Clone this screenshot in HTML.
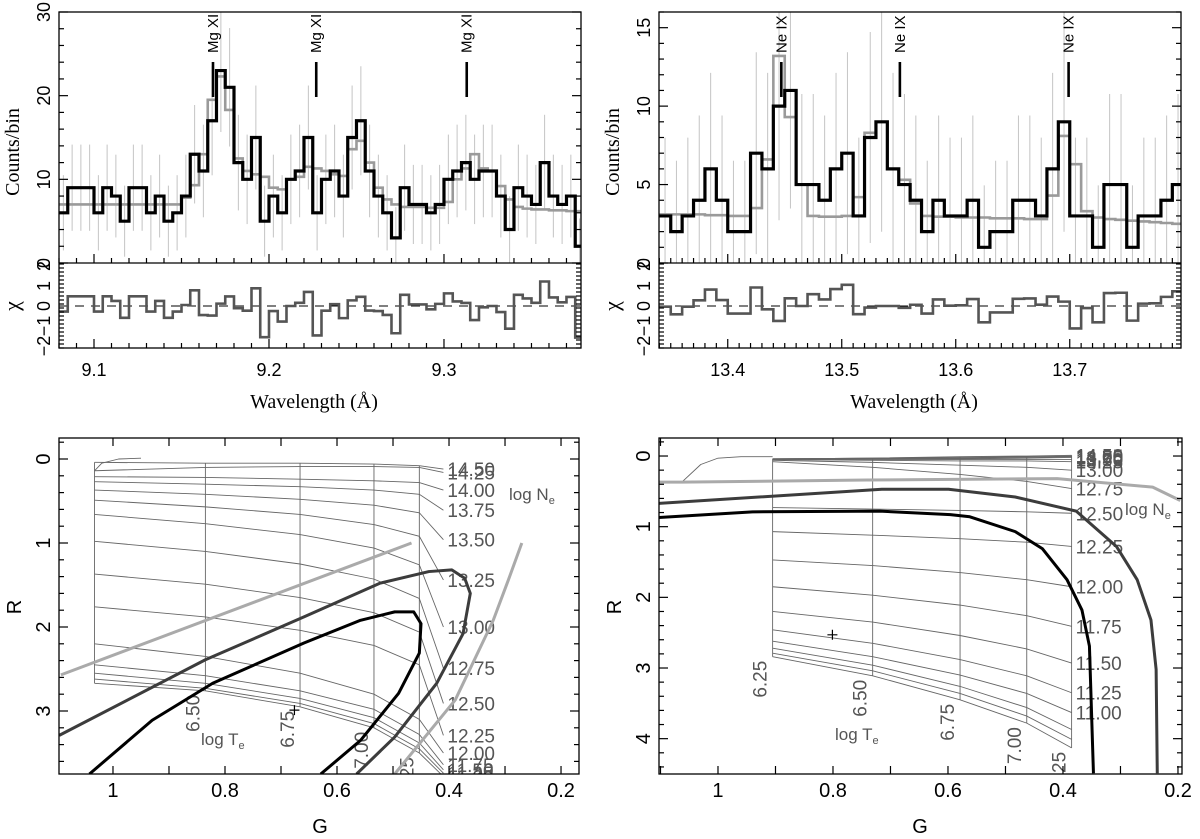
<!DOCTYPE html>
<html><head><meta charset="utf-8"><title>Spectra and G-R diagnostics</title>
<style>
html,body{margin:0;padding:0;background:#fff;}
svg{display:block;}
text{font-family:"Liberation Sans",sans-serif;}
.serif{font-family:"Liberation Serif",serif;}
</style></head>
<body>
<svg id="fig" width="1200" height="839" viewBox="0 0 1200 839" xmlns="http://www.w3.org/2000/svg">
<defs>
<clipPath id="cTL"><rect x="59" y="12" width="522" height="336"/></clipPath>
<clipPath id="cTR"><rect x="659" y="12" width="522" height="336"/></clipPath>
<clipPath id="cBL"><rect x="59" y="438" width="520" height="336"/></clipPath>
<clipPath id="cBR"><rect x="659" y="438" width="522" height="336"/></clipPath>
</defs>
</svg>
<script>
// ---------- Spectrum data (top-left: Mg XI region) ----------
const tlCounts=[6,9,9,9,6,9,8,5,9,9,6,8,5,6,8,13,11,17,23,21,12,10,15,5,8,6,10,11,15,6,10,11,8,15,17,11,8,6,3,9,7,7,6,7,10,11,12,10,11,11,8,4,9,8,7,12,8,7,8,2,7];
const tlModel=[7,7,7,7,7,7,7,7,7,7,7,7,7,7,7.8,9.3,13,19.5,22.3,18.3,12.5,11,10.6,10.3,9,8.8,10,10.3,11.5,11.3,11,10.6,10.4,13.6,14.6,12,9,7.6,7,6.7,6.7,6.7,6.6,6.6,7.3,10,11.3,13,11.3,11,9.2,7.6,6.7,6.5,6.4,6.4,6.3,6.3,6.2,6.2,6.1];
const tlLines=[9.168,9.227,9.313];
const tlLineNames=["Mg XI","Mg XI","Mg XI"];
const tlXTicks=[9.1,9.2,9.3];
const tlYTicks=[0,10,20,30];
// ---------- Spectrum data (top-right: Ne IX region) ----------
const trCounts=[3,2,3,4,6,4,2,2,7,6,10,11,5,5,4,6,7,3,8,9,6,5,4,2,4,3,3,4,1,2,2,4,4,3,6,9,3,3,1,5,5,1,3,3,4,5];
const trModel=[3.1,3.1,3.1,3.1,3.05,3.05,3.0,3.0,3.5,6.6,13.2,9.3,5.0,3.0,2.95,2.95,3.0,4.2,8.3,9.0,6.0,5.3,3.8,3.0,2.95,2.95,2.9,2.9,2.9,2.85,2.85,2.85,2.8,2.8,4.3,8.1,6.3,3.3,2.9,2.8,2.75,2.7,2.65,2.6,2.55,2.5];
const trLines=[13.447,13.551,13.699];
const trLineNames=["Ne IX","Ne IX","Ne IX"];
const trXTicks=[13.4,13.5,13.6,13.7];
const trYTicks=[0,5,10,15];
const resTicks=[-2,-1,0,1,2];
// ---------- G-R diagnostic grids ----------
const blTempLabels=["6.25","6.50","6.75","7.00","7.25"];
const blColG=[1.033,0.835,0.666,0.534,0.453];
const blEndG=0.41;
const blDensLabels=["14.50","14.25","14.00","13.75","13.50","13.25","13.00","12.75","12.50","12.25","12.00","11.75","11.50","11.25","11.00"];
const blRows=[
[0.04,0.05,0.05,0.06,0.08,0.12],[0.14,0.10,0.09,0.09,0.10,0.16],[0.21,0.22,0.24,0.26,0.28,0.37],
[0.27,0.30,0.33,0.37,0.42,0.61],[0.37,0.42,0.48,0.55,0.64,0.96],[0.49,0.57,0.66,0.78,0.92,1.44],
[0.66,0.77,0.90,1.06,1.26,2.00],[0.98,1.10,1.25,1.43,1.66,2.49],[1.37,1.49,1.65,1.83,2.06,2.91],
[1.76,1.88,2.04,2.22,2.45,3.29],[2.20,2.35,2.55,2.80,3.10,3.50],[2.45,2.58,2.76,2.98,3.28,3.64],
[2.55,2.67,2.85,3.08,3.38,3.70],[2.62,2.73,2.91,3.15,3.45,3.74],[2.67,2.76,2.95,3.20,3.50,3.78]];
const blLightA_G=[1.093,0.467], blLightA_R=[2.57,1.0];
const blLightB_G=[0.497,0.389,0.321,0.294,0.270], blLightB_R=[3.75,2.87,1.92,1.44,1.0];
const blEdge_G=[1.033,1.02,0.99,0.95], blEdge_R=[0.14,0.05,0.0,-0.01];
const blDark_G=[1.096,0.835,0.659,0.524,0.436,0.395,0.372,0.362,0.375,0.422,0.497,0.565];
const blDark_R=[3.29,2.39,1.88,1.48,1.34,1.32,1.42,1.60,2.08,2.67,3.31,3.75];
const blBlack_G=[1.042,0.93,0.822,0.659,0.558,0.497,0.463,0.45,0.453,0.49,0.558,0.629];
const blBlack_R=[3.75,3.11,2.67,2.19,1.92,1.82,1.82,1.96,2.31,2.79,3.35,3.75];
const blMark=[0.676,2.99];
const brTempLabels=["6.25","6.50","6.75","7.00","7.25"];
const brColG=[0.905,0.731,0.579,0.463,0.385];
const brDensLabels=["14.50","14.25","14.00","13.75","13.50","13.25","13.00","12.75","12.50","12.25","12.00","11.75","11.50","11.25","11.00","","",""];
const brRows=[
[0.04,0.03,0.01,0.0,-0.01],[0.04,0.03,0.02,0.01,0.0],[0.04,0.03,0.03,0.02,0.01],[0.05,0.04,0.04,0.03,0.02],
[0.05,0.05,0.05,0.05,0.05],[0.05,0.06,0.07,0.07,0.08],[0.06,0.09,0.13,0.16,0.20],[0.08,0.16,0.26,0.36,0.46],
[0.73,0.75,0.77,0.79,0.81],[1.07,1.12,1.17,1.22,1.28],[1.47,1.55,1.65,1.75,1.85],[1.85,1.97,2.11,2.26,2.41],
[2.20,2.35,2.54,2.73,2.93],[2.46,2.65,2.88,3.11,3.35],[2.62,2.84,3.10,3.36,3.63],[2.72,2.96,3.26,3.56,3.87],
[2.79,3.04,3.36,3.68,4.01],[2.84,3.11,3.45,3.78,4.13]];
const brLight_G=[1.103,1.063,0.741,0.41,0.244,0.196], brLight_R=[0.37,0.37,0.34,0.32,0.44,0.63];
const brEdge_G=[1.063,1.03,1.0,0.96,0.905], brEdge_R=[0.37,0.12,0.03,0.01,0.01];
const brDark_G=[1.103,0.715,0.599,0.483,0.377,0.307,0.271,0.247,0.238,0.236];
const brDark_R=[0.67,0.47,0.47,0.58,0.78,1.28,1.75,2.32,3.02,4.49];
const brBlack_G=[1.103,0.94,0.718,0.596,0.562,0.483,0.436,0.393,0.367,0.354,0.347];
const brBlack_R=[0.87,0.79,0.78,0.83,0.86,1.07,1.31,1.75,2.18,2.69,4.49];
const brMark=[0.801,2.53];
const gTicks=[1,0.8,0.6,0.4,0.2];

const NS="http://www.w3.org/2000/svg";
const svg=document.getElementById('fig');
function add(parent,tag,attrs,txt){const e=document.createElementNS(NS,tag);for(const k in attrs)e.setAttribute(k,attrs[k]);if(txt!==undefined)e.textContent=txt;parent.appendChild(e);return e;}

function spectrum(P){
  const g=add(svg,'g',{});
  
  
  const x=v=>P.px0+(v-P.xmin)/(P.xmax-P.xmin)*(P.px1-P.px0);
  const y=c=>P.bot-c/P.ymax*(P.bot-P.top);
  const ry=r=>P.rbot-(r+2.1)/4.25*(P.rbot-P.bot);
  const cg=add(g,'g',{'clip-path':'url(#'+P.clip+')'});
  P.counts.forEach((n,i)=>{
    const e=P.eb*(1+Math.sqrt(n+0.75));
    const cx=x(P.x0+(i+0.5)*P.bw);
    const l=add(cg,'line',{x1:cx,x2:cx,y1:Math.max(P.top,y(n+e)),y2:Math.min(P.bot,y(Math.max(0,n-e))),stroke:'#c4c4c4','stroke-width':1});
    
    
  });
  function steps(vals,fy){let d='';vals.forEach((v,i)=>{const xa=x(P.x0+i*P.bw),xb=x(P.x0+(i+1)*P.bw);d+=(i===0?'M'+xa+','+fy(v):'V'+fy(v))+'H'+xb;});return d;}
  const m=add(cg,'path',{d:steps(P.model,y),fill:'none',stroke:'#9a9a9a','stroke-width':2.6});
  
  
  const h=add(cg,'path',{d:steps(P.counts,y),fill:'none',stroke:'#000','stroke-width':3.2});
  
  
  const res=P.counts.map((n,i)=>(n-P.model[i])/(1+Math.sqrt(n+0.75)));
  const dl=add(cg,'line',{x1:P.px0,x2:P.px1,y1:ry(0),y2:ry(0),stroke:'#000','stroke-width':1,'stroke-dasharray':'9,7'});
  
  
  const rp=add(cg,'path',{d:steps(res,ry),fill:'none',stroke:'#555','stroke-width':2.6});
  
  
  P.lines.forEach((l,i)=>{
    const lx=x(l);
    const t=add(g,'line',{x1:lx,x2:lx,y1:62,y2:97,stroke:'#000','stroke-width':2.6});
    
    
    const tx=add(g,'text',{x:0,y:0,transform:`translate(${lx+5},53) rotate(-90)`,'font-size':15},P.lineNames[i]);
    
    
  });
  const f1=add(g,'rect',{x:P.px0,y:P.top,width:P.px1-P.px0,height:P.rbot-P.top,fill:'none',stroke:'#000','stroke-width':1.3});
  
  
  const sep=add(g,'line',{x1:P.px0,x2:P.px1,y1:P.bot,y2:P.bot,stroke:'#000','stroke-width':1.3});
  
  
  const tk=add(g,'g',{stroke:'#000','stroke-width':1.2});
  
  
  const xs=Math.ceil(P.xmin*100-1e-6);
  for(let k=xs;k/100<=P.xmax;k++){const v=k/100;const maj=k%10===0;const L=maj?9:5;const xx=x(v);
    add(tk,'line',{x1:xx,x2:xx,y1:P.bot,y2:P.bot-L});add(tk,'line',{x1:xx,x2:xx,y1:P.rbot,y2:P.rbot-L});}
  for(let c=0;c<=P.ymax;c+=P.minor){const maj=c%P.major===0;const L=maj?9:5;const yy=y(c);
    add(tk,'line',{x1:P.px0,x2:P.px0+L,y1:yy,y2:yy});add(tk,'line',{x1:P.px1,x2:P.px1-L,y1:yy,y2:yy});}
  for(let k=-21;k<=21;k+=2){const r=k/10;const maj=k%10===0;const L=maj?9:5;const yy=ry(r);
    add(tk,'line',{x1:P.px0,x2:P.px0+L,y1:yy,y2:yy});add(tk,'line',{x1:P.px1,x2:P.px1-L,y1:yy,y2:yy});}
  const lx=P.px0-9;
  P.xticks.forEach(v=>{const t=add(g,'text',{x:x(v),y:376,'font-size':18,'text-anchor':'middle'},v.toFixed(1));
    
    });
  P.yticks.forEach(v=>{const t=add(g,'text',{x:0,y:0,transform:`translate(${lx},${y(v)}) rotate(-90)`,'font-size':18,'text-anchor':'middle'},String(v));
    
    });
  resTicks.forEach(v=>{const t=add(g,'text',{x:0,y:0,transform:`translate(${lx},${ry(v)}) rotate(-90)`,'font-size':18,'text-anchor':'middle'},v<0?'\u2212'+(-v):String(v));
    
    });
  const yl=add(g,'text',{x:0,y:0,transform:`translate(${P.px0-40},152) rotate(-90)`,'font-size':20,'text-anchor':'middle','class':'serif'},'Counts/bin');
  
  
  const cl=add(g,'text',{x:0,y:0,transform:`translate(${P.px0-40},306) rotate(-90)`,'font-size':22,'text-anchor':'middle','class':'serif'},'\u03c7');
  
  
  const xl=add(g,'text',{x:P.px0+255,y:408,'font-size':20,'text-anchor':'middle','class':'serif'},'Wavelength (\u00c5)');
  
  
}

spectrum({name:'mg-xi-spectrum',clip:'cTL',px0:59,px1:581,top:12,bot:263,rbot:348,xmin:9.08,xmax:9.3783,ymax:30,x0:9.08,bw:0.005,
  counts:tlCounts,model:tlModel,lines:tlLines,lineNames:tlLineNames,xticks:tlXTicks,yticks:tlYTicks,minor:2,major:10,eb:1.25});
spectrum({name:'ne-ix-spectrum',clip:'cTR',px0:659,px1:1181,top:12,bot:263,rbot:348,xmin:13.3397,xmax:13.7976,ymax:16,x0:13.34,bw:0.01,
  counts:trCounts,model:trModel,lines:trLines,lineNames:trLineNames,xticks:trXTicks,yticks:trYTicks,minor:1,major:5,eb:1.7});

function diag(P){
  const g=add(svg,'g',{});
  
  
  const x=v=>P.px0+(P.gmax-v)/(P.gmax-P.gmin)*(P.px1-P.px0);
  const y=r=>P.top+(r-P.rmin)/(P.rmax-P.rmin)*(P.bot-P.top);
  const cg=add(g,'g',{'clip-path':'url(#'+P.clip+')'});
  const nc=P.colG.length;
  P.rows.forEach((row,i)=>{
    let pts=P.colG.map((gv,j)=>x(gv)+','+y(row[j]));
    if(row.length>nc) pts.push(x(P.endG)+','+y(row[nc]));
    const pl=add(cg,'polyline',{points:pts.join(' '),fill:'none',stroke:'#666','stroke-width':0.9});
    
    
    if(P.dens[i]){
      const lg=row.length>nc?P.endG:P.colG[nc-1];
      const t=add(cg,'text',{x:x(lg)+4,y:y(row[row.length-1])+7,'font-size':19,fill:'#555'},P.dens[i]);
      
      
    }
  });
  P.colG.forEach((gv,j)=>{
    const pts=P.rows.map(r=>x(gv)+','+y(r[j])).join(' ');
    const pl=add(cg,'polyline',{points:pts,fill:'none',stroke:'#666','stroke-width':0.9});
    
    
    const last=P.rows[P.rows.length-1][j];
    if(P.temps[j]&&(j>0||P.showFirst)){
      const t=add(cg,'text',{x:0,y:0,transform:`translate(${x(gv)-6},${y(last)+4}) rotate(-90)`,'font-size':19,fill:'#555','text-anchor':'end'},P.temps[j]);
      
      
    }
  });
  P.curves.forEach(c=>{
    const pts=c.G.map((gv,i)=>x(gv)+','+y(c.R[i])).join(' ');
    const pl=add(cg,'polyline',{points:pts,fill:'none',stroke:c.color,'stroke-width':c.w,'stroke-linejoin':'round'});
    
    
  });
  const mx=x(P.mark[0]),my=y(P.mark[1]);
  const mk=add(cg,'path',{d:`M${mx-5},${my}H${mx+5}M${mx},${my-5}V${my+5}`,stroke:'#000','stroke-width':1.2});
  
  
  const ln=add(cg,'text',{x:P.neX,y:P.neY,'font-size':17,fill:'#555'});
  
  
  add(ln,'tspan',{},'log N');add(ln,'tspan',{'font-size':11,dy:4},'e');
  const lt=add(cg,'text',{x:P.teX,y:P.teY,'font-size':17,fill:'#555'});
  
  
  add(lt,'tspan',{},'log T');add(lt,'tspan',{'font-size':11,dy:4},'e');
  const fr=add(g,'rect',{x:P.px0,y:P.top,width:P.px1-P.px0,height:P.bot-P.top,fill:'none',stroke:'#000','stroke-width':1.3});
  
  
  const tk=add(g,'g',{stroke:'#000','stroke-width':1.2});
  
  
  for(let k=2;k<=11;k++){const xx=x(k/10);if(xx<P.px0||xx>P.px1)continue;
    add(tk,'line',{x1:xx,x2:xx,y1:P.bot,y2:P.bot-8});add(tk,'line',{x1:xx,x2:xx,y1:P.top,y2:P.top+8});}
  for(let k=-2;k<=50;k+=2){const r=k/10;const yy=y(r);if(yy<P.top||yy>P.bot)continue;const L=k%10===0?9:5;
    add(tk,'line',{x1:P.px0,x2:P.px0+L,y1:yy,y2:yy});add(tk,'line',{x1:P.px1,x2:P.px1-L,y1:yy,y2:yy});}
  gTicks.forEach(v=>{const xx=x(v);if(xx>P.px1+12)return;const t=add(g,'text',{x:xx,y:797,'font-size':20,'text-anchor':'middle'},String(v));
    
    });
  P.rticks.forEach(v=>{const t=add(g,'text',{x:0,y:0,transform:`translate(${P.px0-9},${y(v)}) rotate(-90)`,'font-size':20,'text-anchor':'middle'},String(v));
    
    });
  const rl=add(g,'text',{x:0,y:0,transform:`translate(${P.px0-38},607) rotate(-90)`,'font-size':20,'text-anchor':'middle'},'R');
  
  
  const gl=add(g,'text',{x:P.px0+261,y:833,'font-size':20,'text-anchor':'middle'},'G');
  
  
}

diag({name:'mg-xi-diagnostic',clip:'cBL',px0:59,px1:579,top:438,bot:774,gmax:1.0964,gmin:0.1679,rmin:-0.25,rmax:3.75,
  colG:blColG,endG:blEndG,rows:blRows,dens:blDensLabels,temps:blTempLabels,showFirst:false,rticks:[0,1,2,3],
  curves:[{G:blEdge_G,R:blEdge_R,color:'#666',w:0.9,name:'grid-edge'},{G:blLightA_G,R:blLightA_R,color:'#aaa',w:3,name:'contour-light-a'},{G:blLightB_G,R:blLightB_R,color:'#aaa',w:3,name:'contour-light-b'},
          {G:blDark_G,R:blDark_R,color:'#3c3c3c',w:3,name:'contour-outer'},{G:blBlack_G,R:blBlack_R,color:'#000',w:3,name:'contour-inner'}],
  mark:blMark,neX:509,neY:500,teX:201,teY:745});
diag({name:'ne-ix-diagnostic',clip:'cBR',px0:659,px1:1182,top:438,bot:774,gmax:1.1026,gmin:0.1930,rmin:-0.255,rmax:4.5,
  colG:brColG,endG:null,rows:brRows,dens:brDensLabels,temps:brTempLabels,showFirst:true,rticks:[0,1,2,3,4],
  curves:[{G:brEdge_G,R:brEdge_R,color:'#666',w:0.9,name:'grid-edge'},{G:brLight_G,R:brLight_R,color:'#aaa',w:3,name:'contour-light'},
          {G:brDark_G,R:brDark_R,color:'#3c3c3c',w:3,name:'contour-outer'},{G:brBlack_G,R:brBlack_R,color:'#000',w:3,name:'contour-inner'}],
  mark:brMark,neX:1125,neY:515,teX:835,teY:740});
</script>
</body></html>
